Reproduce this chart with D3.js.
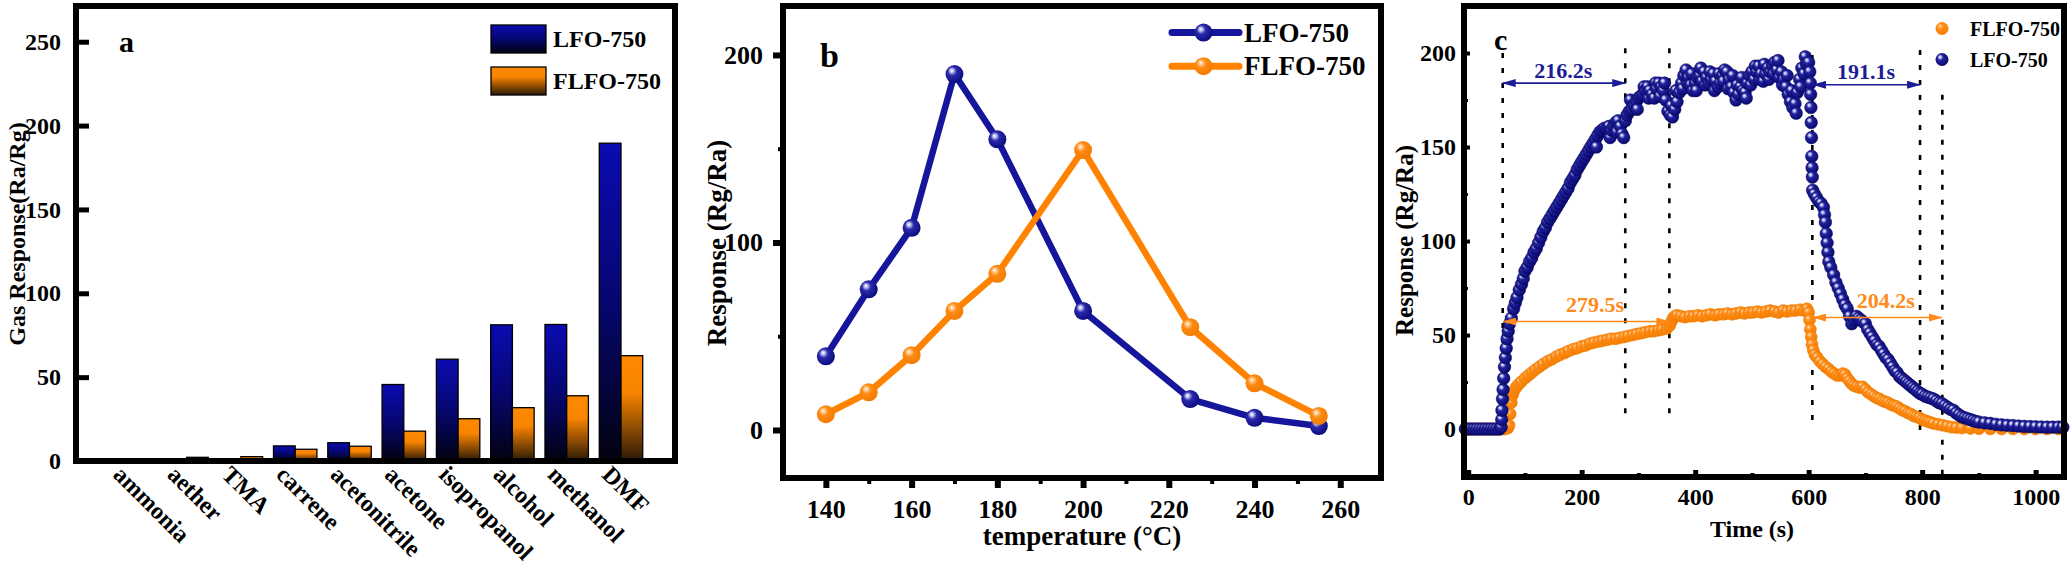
<!DOCTYPE html>
<html>
<head>
<meta charset="utf-8">
<script src="https://cdn.jsdelivr.net/npm/d3@7"></script>
<style>
  body { margin: 0; background: #fff; }
  svg { display: block; }
</style>
</head>
<body>
<script>
// --- DATA ---
// (a) gas selectivity
var gases = ["ammonia", "aether", "TMA", "carrene", "acetonitrile", "acetone", "isopropanol", "alcohol", "methanol", "DMF"];
var lfoGas = [0, 0.6, 1.3, 9, 10.9, 45.6, 60.7, 81.2, 81.4, 189.5];
var flfoGas = [0, 2.2, 2.6, 7, 8.8, 17.8, 25.2, 31.8, 38.9, 62.8];
var gasTicks = [0, 50, 100, 150, 200, 250];

// (b) operating temperature
var temps = [140, 150, 160, 170, 180, 200, 225, 240, 255];
var lfoTemp = [39.3, 75, 107.8, 189.8, 155, 63.5, 16.5, 6.5, 2.1];
var flfoTemp = [8.4, 20.1, 39.9, 63.5, 83.3, 149.3, 54.8, 24.9, 7.5];
var tempTicks = [140, 160, 180, 200, 220, 240, 260];
var tempMinor = [150, 170, 190, 210, 230, 250];
var tempRespTicks = [0, 100, 200];
var tempRespMinor = [50, 150];

// (c) response / recovery transients, [time s, response]
var flfoTrace = [
  [-5,0],[0,0],[5,0],[10,0],[15,0],[20,0],[25,0],[30,0],[35,0],[40,0],[45,0],[50,0],[55,0],[60,0],[65,0],[70,0.5],
  [72,2],[74,8],[76,14],[78,18],[80,20],[84,22],[88,23.5],[93,25],[100,27],[106,28.5],[112,30],[118,31.5],[125,33],
  [132,34.5],[140,36],[147,37],[155,38.5],[162,39.5],[170,40.5],[177,41.5],[185,42.5],[192,43],[200,44],[207,44.5],
  [215,45.5],[222,46],[230,46.5],[237,47],[245,47.5],[252,48],[260,48],[267,48.5],[275,49],[282,49.5],[290,50],
  [297,50.5],[305,51],[312,51.5],[320,52],[327,52],[335,52.5],[342,53],[350,53.5],[355,55],[358,57],[361,59],
  [364,60],[368,60.5],[375,60],[382,59.5],[390,60],[397,60],[405,60.5],[412,60],[420,60.5],[427,61],[435,60.5],
  [442,61],[450,61],[457,61.5],[465,61],[472,61.5],[480,62],[487,61.5],[495,62],[502,62],[510,62.5],[517,62],
  [525,62.5],[532,63],[540,62.5],[547,62],[555,63],[562,62.5],[570,63],[577,63],[585,63.5],[592,63],[597,64],
  [600,62],[601.5,58],[603,53],[604.5,49],[606,45],[608,42],[611,39.5],[615,38],[620,36],[625,34.5],[630,33],
  [635,32],[640,30.5],[645,29.5],[650,28.5],[655,28.5],[660,29.5],[664,29],[668,27],[672,25.5],[676,24],[680,23],
  [685,22.5],[690,22],[695,22.5],[700,21],[705,19.5],[710,18.5],[715,17.5],[720,16.5],[725,16],[730,15],[735,14.5],
  [740,14],[745,13],[750,12.5],[755,12],[760,11],[765,10],[770,9.5],[775,8.5],[780,8],[785,7],[790,6.5],[795,6],
  [800,5],[805,4.5],[810,4],[815,3.5],[820,3],[828,2.5],[836,2],[844,1.5],[852,1],[860,0.8],[870,0.5],[885,0.3],
  [900,0.2],[920,0],[940,0],[960,0],[980,0],[1000,0],[1020,0],[1040,0]
];
var lfoTrace = [
  [-5,0],[0,0],[5,0],[10,0],[15,0],[20,0],[25,0],[30,0],[35,0],[40,0],[45,0],[50,0],[55,0],[58,1],
  [59,5],[59.5,10],[60.5,16],[61.5,21],[62.5,27],[64,33],[65.5,38],[67,43],[68.5,48],[70.5,52],[73,56],[76,59],
  [80,64],[83,67],[86,70],[90,74],[94,77],[97,80],[100,84],[104,86],[108,89],[112,91],[116,94],[120,96],[124,99],
  [128,102],[132,105],[136,107],[140,110],[144,112],[148,114],[152,116],[156,118],[160,120],[164,122],[168,124],
  [172,126],[176,128],[180,131],[184,133],[188,135],[192,138],[196,140],[200,142],[204,144],[208,146],[212,148],
  [216,150],[220,152],[224,154],[226,150],[228,156],[232,158],[236,159],[240,160],[244,160],[248,161],[250,155],
  [252,159],[256,161],[260,163],[262,158],[264,164],[268,161],[271,157],[274,155],[277,164],[280,167],[284,169],
  [286,175],[288,170],[292,172],[296,174],[298,170],[300,176],[304,177],[308,178],[310,182],[312,180],[316,182],
  [318,176],[320,180],[324,178],[328,176],[330,184],[332,181],[336,184],[338,177],[340,182],[344,180],[346,184],
  [348,175],[352,169],[356,167],[358,172],[360,166],[364,170],[366,180],[368,174],[372,179],[376,184],[378,181],
  [380,188],[384,191],[386,184],[388,187],[392,183],[394,189],[396,180],[400,184],[402,180],[404,187],[408,188],
  [410,192],[412,185],[416,190],[418,183],[420,187],[424,184],[426,190],[428,186],[432,189],[434,180],[436,185],
  [440,182],[442,189],[444,184],[448,188],[450,185],[452,191],[456,190],[458,181],[460,186],[464,182],[466,188],
  [468,179],[472,175],[474,183],[476,178],[480,182],[482,187],[484,180],[488,179],[490,176],[492,184],[496,188],
  [498,183],[500,190],[504,186],[506,193],[508,190],[512,193],[514,186],[516,189],[520,185],[522,194],[524,189],
  [528,192],[530,186],[532,190],[536,193],[538,189],[540,195],[544,191],[546,196],[548,187],[552,190],[554,183],
  [556,186],[560,182],[562,188],[564,178],[568,174],[570,180],[572,171],[576,173],[578,168],[580,179],[584,186],
  [586,182],[588,192],[592,189],[594,198],[596,194],[600,195],
  [602,190],[603,184],[603.5,178],[604,171],[604.5,163],[605,155],[605.5,145],[606,139],[606.5,134],[607,127],
  [610,125],[614,123],[618,121],[622,120],[626,118],[628,114],[629.5,110],[631,104],[632.5,99],[634,94],[635.5,89],
  [639,86],[644,82],[648,78],[652,75],[656,72],[660,69],[664,66],[668,64],[672,60],[676,56],[680,58],[684,60],
  [688,59],[692,58],[696,57],[700,56],[704,53],[708,51],[712,49],[716,47],[720,45],[724,44],[728,42],[732,40],
  [736,38],[740,37],[744,35],[748,33],[752,31],[756,30],[760,28],[764,27],[768,26],[772,25],[776,24],[780,23],
  [784,22],[788,21],[792,20],[796,19],[800,18.5],[805,17.5],[810,17],[815,16.5],[820,16],[825,15],[830,14],
  [835,13.5],[840,12.5],[845,11.5],[850,10.5],[855,10],[860,8.5],[865,7.5],[870,6.5],[875,6],[880,5.5],[885,5],
  [890,4.5],[895,4],[900,3.7],[910,3.3],[920,3],[930,2.5],[940,2.2],[950,2],[960,1.8],[970,1.6],[980,1.4],
  [990,1.3],[1000,1.2],[1010,1.1],[1020,1],[1030,1],[1040,1],[1048,1]
];
var timeTicks = [0, 200, 400, 600, 800, 1000];
var timeMinor = [100, 300, 500, 700, 900];
var traceTicks = [0, 50, 100, 150, 200];
var traceMinor = [25, 75, 125, 175];
// dotted guide lines: [time, top response, bottom response]
var guides = [[60.8, 200, 0], [276.8, 202.5, 6.3], [354.5, 202.5, 6.3], [606.5, 199, 1], [796.3, 201.6, -3.4], [835.6, 177.8, -26]];
// response / recovery spans
var spans = [
  { label: "216.2s", series: "LFO", t0: 60.8, t1: 276.8, level: 184, labelT: 167.6, labelV: 186.6 },
  { label: "191.1s", series: "LFO", t0: 608, t1: 796.3, level: 183.1, labelT: 701, labelV: 186.3 },
  { label: "279.5s", series: "FLFO", t0: 62, t1: 354.5, level: 57.2, labelT: 223.5, labelV: 62 },
  { label: "204.2s", series: "FLFO", t0: 608, t1: 834.5, level: 59.3, labelT: 736, labelV: 64.6 }
];

// --- SETUP ---
var FONT = "'Liberation Serif', 'Times New Roman', serif";
var BLUE = "#16169c", ORANGE = "#ff8300";
var svg = d3.select("body").append("svg").attr("width", 2070).attr("height", 566)
  .attr("font-family", FONT).attr("font-weight", "bold");
var defs = svg.append("defs");

function linGrad(id, stops) {
  var g = defs.append("linearGradient").attr("id", id).attr("x1", 0).attr("y1", 0).attr("x2", 0).attr("y2", 1);
  stops.forEach(function(s) { g.append("stop").attr("offset", s[0]).attr("stop-color", s[1]); });
}
function sphere(id, stops) {
  var g = defs.append("radialGradient").attr("id", id).attr("cx", "42%").attr("cy", "40%").attr("r", "62%")
    .attr("fx", "34%").attr("fy", "30%");
  stops.forEach(function(s) { g.append("stop").attr("offset", s[0]).attr("stop-color", s[1]); });
}
linGrad("barLFO", [[0, "#0b0bb2"], [0.5, "#060670"], [1, "#020210"]]);
linGrad("barFLFO", [[0, "#ff8a00"], [0.35, "#f88400"], [1, "#2a1805"]]);
sphere("ballBlue", [[0, "#ffffff"], [0.15, "#c4c6f2"], [0.4, "#2a2aac"], [1, "#0b0b7c"]]);
sphere("ballOrange", [[0, "#fffaf0"], [0.15, "#ffcf9a"], [0.42, "#ff8a12"], [1, "#f27c00"]]);
sphere("dotBlue", [[0, "#ffffff"], [0.14, "#b8bcee"], [0.38, "#22229e"], [1, "#08086e"]]);
sphere("dotOrange", [[0, "#ffe9cc"], [0.15, "#ffb868"], [0.4, "#ff8a16"], [1, "#f58000"]]);

function arrowHead(id, color) {
  defs.append("marker").attr("id", id).attr("viewBox", "0 0 14 8").attr("refX", 13).attr("refY", 4)
    .attr("markerWidth", 14).attr("markerHeight", 8).attr("markerUnits", "userSpaceOnUse")
    .attr("orient", "auto-start-reverse")
    .append("path").attr("d", "M0,0L14,4L0,8Z").attr("fill", color);
}
arrowHead("arrowLFO", "#1c1c96");
arrowHead("arrowFLFO", "#ff8a1a");

function styleAxis(g, size, width) {
  g.attr("font-family", FONT).attr("font-size", size).attr("font-weight", "bold");
  g.select(".domain").remove();
  g.selectAll(".tick line").attr("stroke", "#000").attr("stroke-width", width);
  g.selectAll(".tick text").attr("fill", "#000");
}
function frame(box) {
  svg.append("rect").attr("x", box.l).attr("y", box.t).attr("width", box.r - box.l).attr("height", box.b - box.t)
    .attr("fill", "none").attr("stroke", "#000").attr("stroke-width", 6);
}

// --- PANEL A: BARS ---
var boxA = { l: 76, r: 675, t: 6, b: 461 };
var xA = d3.scaleBand().domain(gases).range([105.15, 648.15]).paddingInner(0.2).paddingOuter(0.1);
var xSub = d3.scaleBand().domain(["LFO", "FLFO"]).range([0, xA.bandwidth()]);
var yA = d3.scaleLinear().domain([0, 271.3]).range([boxA.b, boxA.t]);

var groups = svg.append("g").selectAll("g").data(gases).enter().append("g")
  .attr("transform", function(d) { return "translate(" + xA(d) + ",0)"; });
groups.append("rect").attr("x", xSub("LFO")).attr("width", xSub.bandwidth())
  .attr("y", function(d, i) { return yA(lfoGas[i]); })
  .attr("height", function(d, i) { return yA(0) - yA(lfoGas[i]); })
  .attr("fill", "url(#barLFO)").attr("stroke", "#000").attr("stroke-width", 1.3);
groups.append("rect").attr("x", xSub("FLFO")).attr("width", xSub.bandwidth())
  .attr("y", function(d, i) { return yA(flfoGas[i]); })
  .attr("height", function(d, i) { return yA(0) - yA(flfoGas[i]); })
  .attr("fill", "url(#barFLFO)").attr("stroke", "#000").attr("stroke-width", 1.3);

svg.append("g").attr("transform", "translate(" + boxA.l + ",0)")
  .call(d3.axisLeft(yA).tickValues(gasTicks).tickSize(-13).tickPadding(15))
  .call(function(g) { styleAxis(g, 24, 5); });

svg.append("g").attr("transform", "translate(0," + boxA.b + ")")
  .call(d3.axisBottom(xA).tickSize(0))
  .call(function(g) {
    styleAxis(g, 24, 0);
    g.selectAll(".tick text").attr("x", 0).attr("y", 0).attr("dy", 0)
      .attr("text-anchor", "start")
      .attr("transform", "translate(" + (xA.bandwidth() / 2 - 42) + ",15) rotate(45)");
  });
frame(boxA);

svg.append("text").attr("transform", "translate(17,234) rotate(-90)").attr("dy", "0.35em")
  .attr("text-anchor", "middle").attr("font-size", 24).text("Gas Response(Ra/Rg)");
svg.append("text").attr("x", 119).attr("y", 52).attr("font-size", 30).text("a");

var legA = [{ name: "LFO-750", fill: "url(#barLFO)" }, { name: "FLFO-750", fill: "url(#barFLFO)" }];
legA.forEach(function(d, i) {
  var y0 = 25 + i * 42;
  svg.append("rect").attr("x", 491).attr("y", y0).attr("width", 55).attr("height", 28)
    .attr("fill", d.fill).attr("stroke", "#000").attr("stroke-width", 1.3);
  svg.append("text").attr("x", 553).attr("y", y0 + 22).attr("font-size", 24).text(d.name);
});

// --- PANEL B: TEMPERATURE ---
var boxB = { l: 783, r: 1381, t: 6, b: 478 };
var xB = d3.scaleLinear().domain([130, 269.5]).range([boxB.l, boxB.r]);
var yB = d3.scaleLinear().domain([-25.6, 226.1]).range([boxB.b, boxB.t]);

svg.append("g").attr("transform", "translate(" + boxB.l + ",0)")
  .call(d3.axisLeft(yB).tickValues(tempRespTicks).tickSize(10).tickPadding(10))
  .call(function(g) { styleAxis(g, 26, 6); });
svg.append("g").attr("transform", "translate(" + boxB.l + ",0)")
  .call(d3.axisLeft(yB).tickValues(tempRespMinor).tickSize(5).tickFormat(""))
  .call(function(g) { styleAxis(g, 26, 4); });
svg.append("g").attr("transform", "translate(0," + boxB.b + ")")
  .call(d3.axisBottom(xB).tickValues(tempTicks).tickSize(10).tickPadding(12))
  .call(function(g) { styleAxis(g, 26, 6); });
svg.append("g").attr("transform", "translate(0," + boxB.b + ")")
  .call(d3.axisBottom(xB).tickValues(tempMinor).tickSize(6).tickFormat(""))
  .call(function(g) { styleAxis(g, 26, 4); });

var seriesB = [
  { name: "LFO-750", vals: lfoTemp, color: BLUE, ball: "url(#ballBlue)" },
  { name: "FLFO-750", vals: flfoTemp, color: ORANGE, ball: "url(#ballOrange)" }
];
var lineB = d3.line().x(function(d) { return xB(d[0]); }).y(function(d) { return yB(d[1]); });
seriesB.forEach(function(s) {
  var pts = temps.map(function(t, i) { return [t, s.vals[i]]; });
  svg.append("path").datum(pts).attr("d", lineB).attr("fill", "none")
    .attr("stroke", s.color).attr("stroke-width", 6.5).attr("stroke-linejoin", "round");
  svg.append("g").selectAll("circle").data(pts).enter().append("circle")
    .attr("cx", function(d) { return xB(d[0]); }).attr("cy", function(d) { return yB(d[1]); })
    .attr("r", 9).attr("fill", s.ball);
});
seriesB.forEach(function(s, i) {
  var ly = 32.6 + i * 33.6;
  svg.append("line").attr("x1", 1172).attr("x2", 1239).attr("y1", ly).attr("y2", ly)
    .attr("stroke", s.color).attr("stroke-width", 7).attr("stroke-linecap", "round");
  svg.append("circle").attr("cx", 1203.5).attr("cy", ly).attr("r", 9).attr("fill", s.ball);
  svg.append("text").attr("x", 1244).attr("y", ly + 9).attr("font-size", 27).text(s.name);
});
frame(boxB);

svg.append("text").attr("transform", "translate(717,243) rotate(-90)").attr("dy", "0.35em")
  .attr("text-anchor", "middle").attr("font-size", 27).text("Response (Rg/Ra)");
svg.append("text").attr("x", 1082).attr("y", 545).attr("text-anchor", "middle").attr("font-size", 27)
  .text("temperature (°C)");
svg.append("text").attr("x", 820).attr("y", 67).attr("font-size", 34).text("b");

// --- PANEL C: TRANSIENTS ---
var boxC = { l: 1464, r: 2064, t: 6, b: 477 };
var xC = d3.scaleLinear().domain([-7.4, 1050]).range([boxC.l, boxC.r]);
var yC = d3.scaleLinear().domain([-25.5, 225]).range([boxC.b, boxC.t]);

svg.append("g").attr("transform", "translate(" + boxC.l + ",0)")
  .call(d3.axisLeft(yC).tickValues(traceTicks).tickSize(-6).tickPadding(8))
  .call(function(g) { styleAxis(g, 24, 4); });
svg.append("g").attr("transform", "translate(" + boxC.l + ",0)")
  .call(d3.axisLeft(yC).tickValues(traceMinor).tickSize(-4).tickFormat(""))
  .call(function(g) { styleAxis(g, 24, 3); });
svg.append("g").attr("transform", "translate(0," + boxC.b + ")")
  .call(d3.axisBottom(xC).tickValues(timeTicks).tickSize(-7).tickPadding(11).tickFormat(d3.format("d")))
  .call(function(g) { styleAxis(g, 24, 5); });
svg.append("g").attr("transform", "translate(0," + boxC.b + ")")
  .call(d3.axisBottom(xC).tickValues(timeMinor).tickSize(-4).tickFormat(""))
  .call(function(g) { styleAxis(g, 24, 4); });

svg.append("g").selectAll("line").data(guides).enter().append("line")
  .attr("x1", function(d) { return xC(d[0]); }).attr("x2", function(d) { return xC(d[0]); })
  .attr("y1", function(d) { return yC(d[1]); }).attr("y2", function(d) { return yC(d[2]); })
  .attr("stroke", "#000").attr("stroke-width", 2.6).attr("stroke-dasharray", "5,10");

var seriesC = [
  { name: "FLFO-750", key: "FLFO", data: flfoTrace, dot: "url(#dotOrange)", edge: "#e87800", text: "#ff8a1a", r: 6 },
  { name: "LFO-750", key: "LFO", data: lfoTrace, dot: "url(#dotBlue)", edge: "#06065a", text: "#1c1c96", r: 6.3 }
];
seriesC.forEach(function(s) {
  svg.append("g").selectAll("circle").data(s.data).enter().append("circle")
    .attr("cx", function(d) { return xC(d[0]); }).attr("cy", function(d) { return yC(d[1]); })
    .attr("r", s.r).attr("fill", s.dot).attr("stroke", s.edge).attr("stroke-width", 0.5);
});

spans.forEach(function(d) {
  var s = seriesC.filter(function(c) { return c.key === d.series; })[0];
  svg.append("line").attr("x1", xC(d.t0)).attr("x2", xC(d.t1)).attr("y1", yC(d.level)).attr("y2", yC(d.level))
    .attr("stroke", s.text).attr("stroke-width", 1.6)
    .attr("marker-start", "url(#arrow" + d.series + ")").attr("marker-end", "url(#arrow" + d.series + ")");
  svg.append("text").attr("x", xC(d.labelT)).attr("y", yC(d.labelV)).attr("text-anchor", "middle")
    .attr("font-size", 22).attr("fill", s.text).text(d.label);
});

seriesC.forEach(function(s, i) {
  var ly = 28.5 + i * 31;
  svg.append("circle").attr("cx", 1942).attr("cy", ly).attr("r", 6.5).attr("fill", s.dot);
  svg.append("text").attr("x", 1970).attr("y", ly + 7).attr("font-size", 20).text(s.name);
});
frame(boxC);

svg.append("text").attr("transform", "translate(1404,240.5) rotate(-90)").attr("dy", "0.35em")
  .attr("text-anchor", "middle").attr("font-size", 25).text("Response (Rg/Ra)");
svg.append("text").attr("x", 1752).attr("y", 537).attr("text-anchor", "middle").attr("font-size", 24)
  .text("Time (s)");
svg.append("text").attr("x", 1494).attr("y", 50).attr("font-size", 30).text("c");
</script>
</body>
</html>
